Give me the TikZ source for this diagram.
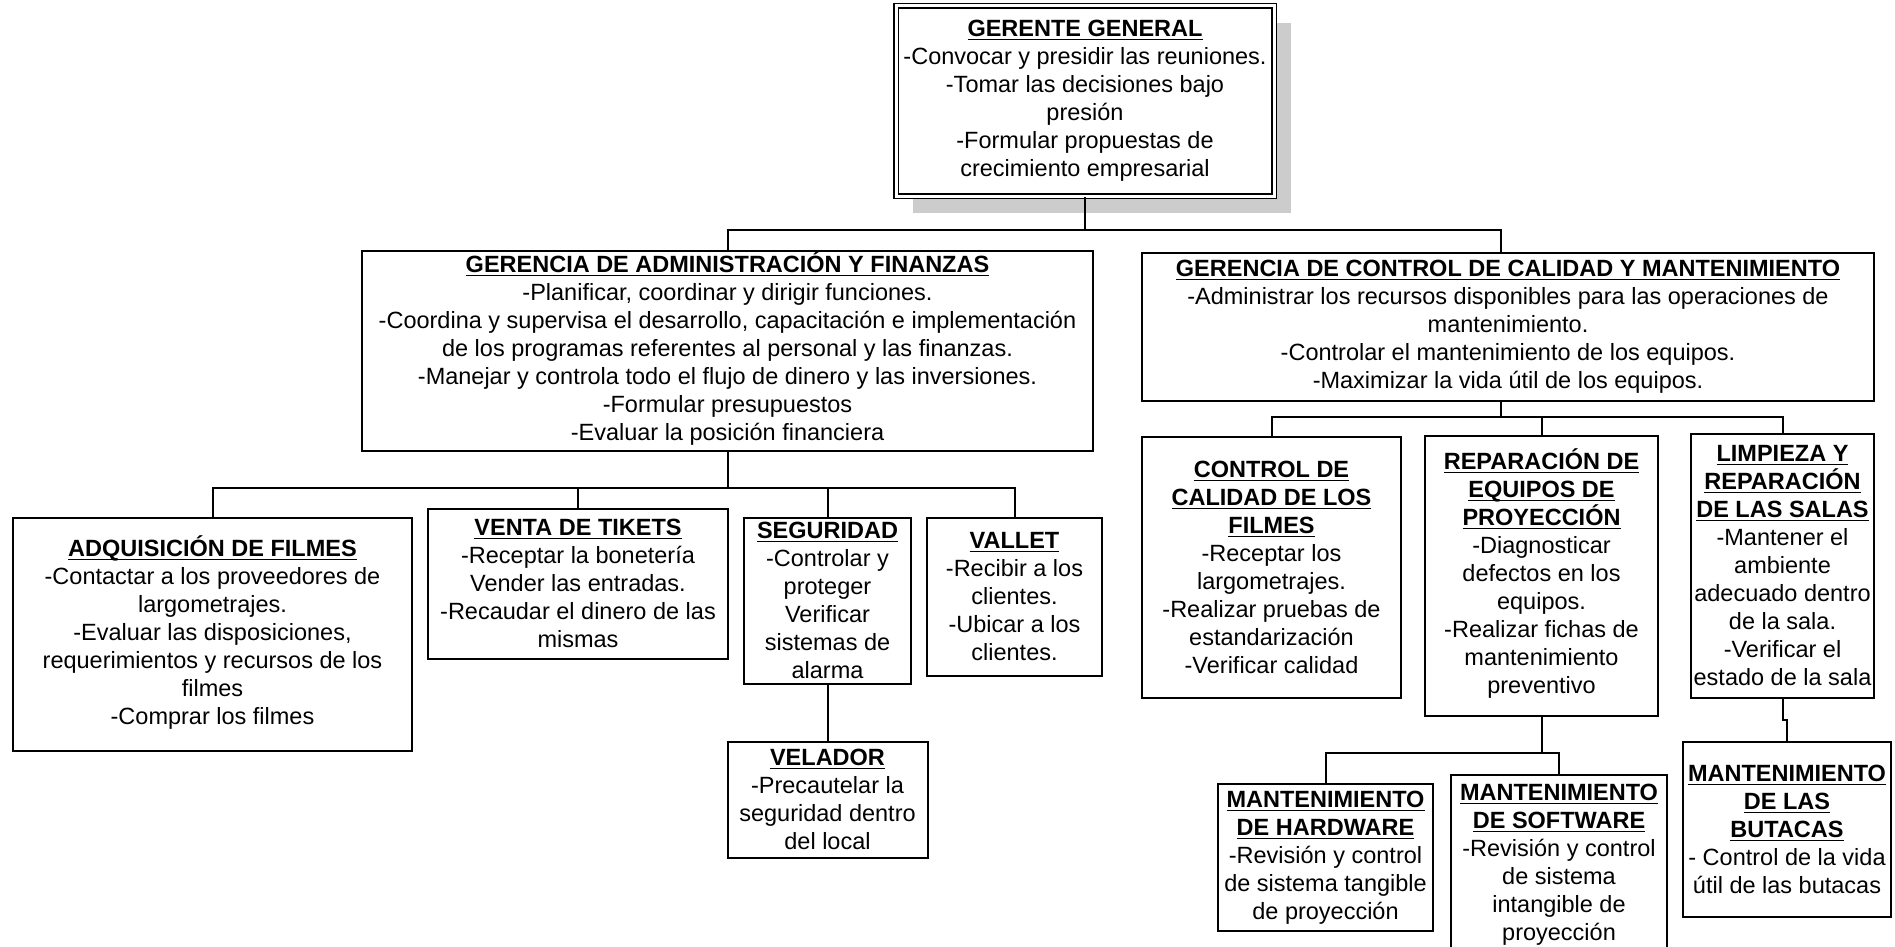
\documentclass[tikz,border=0pt]{standalone}
\usepackage{fontspec}
\setmainfont{Liberation Sans}
\usetikzlibrary{shadows}
\newcommand{\tit}[1]{\textbf{\underline{\smash{#1}}\vphantom{Ay}}}

\begin{document}
\begin{tikzpicture}[x=0.5pt, y=-0.5pt, line width=1pt,
  box/.style={draw, fill=white, align=center, inner sep=1pt, font=\fontsize{11.75}{14}\selectfont}]
  \useasboundingbox (0,0) rectangle (1895,947);
  \node[box, double, double distance=1.5pt, line width=0.8pt, minimum width=189pt, minimum height=95pt,
        drop shadow={shadow xshift=8.5pt, shadow yshift=-8.5pt, fill=black!20, opacity=1}] (gg) at (1085,101)
    {\tit{GERENTE GENERAL}\\-Convocar y presidir las reuniones.\\-Tomar las decisiones bajo\\presión\\-Formular propuestas de\\crecimiento empresarial};
  \node[box, minimum width=365.5pt, minimum height=100pt] (gaf) at (727.5,351)
    {\tit{GERENCIA DE ADMINISTRACIÓN Y FINANZAS}\\-Planificar, coordinar y dirigir funciones.\\-Coordina y supervisa el desarrollo, capacitación e implementación\\de los programas referentes al personal y las finanzas.\\-Manejar y controla todo el flujo de dinero y las inversiones.\\-Formular presupuestos\\-Evaluar la posición financiera};
  \node[box, minimum width=366pt, minimum height=74pt] (gcc) at (1508,327)
    {\tit{GERENCIA DE CONTROL DE CALIDAD Y MANTENIMIENTO}\\-Administrar los recursos disponibles para las operaciones de\\mantenimiento.\\-Controlar el mantenimiento de los equipos.\\-Maximizar la vida útil de los equipos.};
  \node[box, minimum width=199.5pt, minimum height=116.5pt] (adq) at (212.5,634.5)
    {\tit{ADQUISICIÓN DE FILMES}\\-Contactar a los proveedores de\\largometrajes.\\-Evaluar las disposiciones,\\requerimientos y recursos de los\\filmes\\-Comprar los filmes};
  \node[box, minimum width=150pt, minimum height=75pt] (ven) at (578,584)
    {\tit{VENTA DE TIKETS}\\-Receptar la bonetería\\Vender las entradas.\\-Recaudar el dinero de las\\mismas};
  \node[box, minimum width=83.5pt, minimum height=83pt] (seg) at (827.5,601)
    {\tit{SEGURIDAD}\\-Controlar y\\proteger\\Verificar\\sistemas de\\alarma};
  \node[box, minimum width=87.5pt, minimum height=79pt] (val) at (1014.5,597)
    {\tit{VALLET}\\-Recibir a los\\clientes.\\-Ubicar a los\\clientes.};
  \node[box, minimum width=100pt, minimum height=58pt] (vel) at (827.5,800)
    {\tit{VELADOR}\\-Precautelar la\\seguridad dentro\\del local};
  \node[box, minimum width=129.5pt, minimum height=130.5pt] (ccf) at (1271.5,567.5)
    {\tit{CONTROL DE}\\\tit{CALIDAD DE LOS}\\\tit{FILMES}\\-Receptar los\\largometrajes.\\-Realizar pruebas de\\estandarización\\-Verificar calidad};
  \node[box, minimum width=116.5pt, minimum height=140pt] (rep) at (1541.5,576)
    {\tit{REPARACIÓN DE}\\\tit{EQUIPOS DE}\\\tit{PROYECCIÓN}\\-Diagnosticar\\defectos en los\\equipos.\\-Realizar fichas de\\mantenimiento\\preventivo};
  \node[box, inner xsep=0pt, minimum width=91.5pt, minimum height=132pt] (lim) at (1782.5,566)
    {\tit{LIMPIEZA Y}\\\tit{REPARACIÓN}\\\tit{DE LAS SALAS}\\-Mantener el\\ambiente\\adecuado dentro\\de la sala.\\-Verificar el\\estado de la sala};
  \node[box, minimum width=107.5pt, minimum height=73.5pt] (hw) at (1325.5,857.5)
    {\tit{MANTENIMIENTO}\\\tit{DE HARDWARE}\\-Revisión y control\\de sistema tangible\\de proyección};
  \node[box, minimum width=108pt, minimum height=90pt] (sw) at (1559,865)
    {\tit{MANTENIMIENTO}\\\tit{DE SOFTWARE}\\-Revisión y control\\de sistema\\intangible de\\proyección};
  \node[box, minimum width=104pt, minimum height=87.5pt] (but) at (1787,829.5)
    {\tit{MANTENIMIENTO}\\\tit{DE LAS}\\\tit{BUTACAS}\\- Control de la vida\\útil de las butacas};
  % lineas
  \draw (gg.south) -- (gg.south |- 0,230) -| (gaf.north);
  \draw (gg.south |- 0,230) -| ([xshift=-3.5pt]gcc.north);
  \foreach \n in {adq,ven,seg,val}
    \draw (gaf.south) -- (gaf.south |- 0,488) -| (\n.north);
  \draw (seg.south) -- (vel.north);
  \foreach \n in {ccf,rep,lim}
    \draw ([xshift=-3.5pt]gcc.south) -- ([xshift=-3.5pt]gcc.south |- 0,417) -| (\n.north);
  \foreach \n in {hw,sw}
    \draw (rep.south) -- (rep.south |- 0,753) -| (\n.north);
  \draw (lim.south) -- ++(0,21) -| (but.north);
\end{tikzpicture}
\end{document}
